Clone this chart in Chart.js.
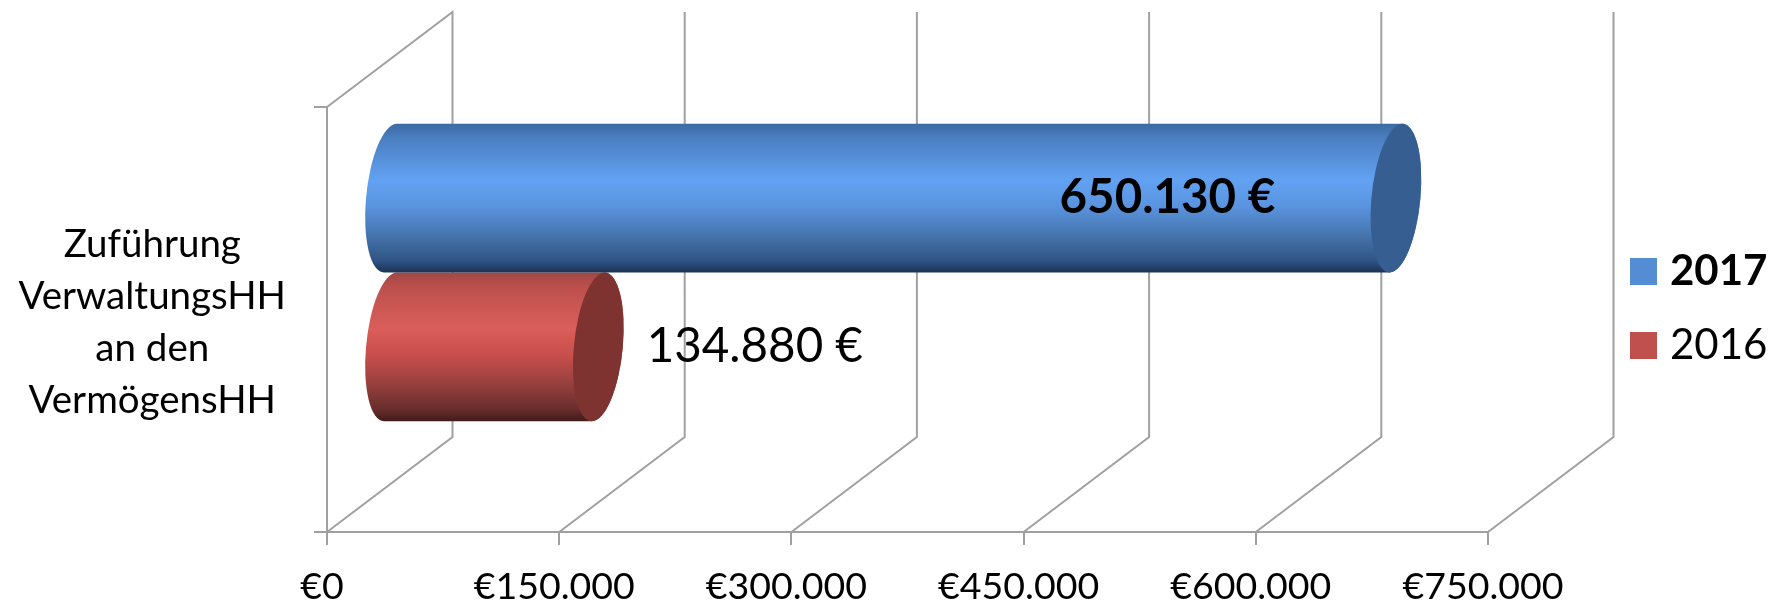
<!DOCTYPE html>
<html>
<head>
<meta charset="utf-8">
<title>Zuführung VerwaltungsHH an den VermögensHH</title>
<script src="https://cdn.jsdelivr.net/npm/chart.js@4/dist/chart.umd.min.js"></script>
<style>
    html, body { margin: 0; padding: 0; background: #fff; }
    canvas { display: block; }
</style>
</head>
<body>
<canvas id="chart" width="1783" height="603"></canvas>
<script>
var categories = [['Zuführung', 'VerwaltungsHH', 'an den', 'VermögensHH']];
var seriesNames = ['2017', '2016'];
var values2017 = [650130];
var values2016 = [134880];
var xTickValues = [0, 150000, 300000, 450000, 600000, 750000];
var xTickLabels = ['€0', '€150.000', '€300.000', '€450.000', '€600.000', '€750.000'];

var FONT = 'Lato, Carlito, Calibri, sans-serif';
var GRID = '#a0a0a0';
var GRID_WIDTH = 2;
// fake 3D: the walls sit this far behind the front plane, the bars half way
var DEPTH_X = 125.5, DEPTH_Y = 95;
var BAR_SHIFT_X = 62.5, BAR_SHIFT_Y = -47;
var CAP_RX = 24.5, CAP_SKEW = 0.087;

var looks = [
    {
        swatch: '#548dd4', cap: '#365e91',
        stops: [[0, '#3c6aa2'], [0.1, '#4a7fc1'], [0.38, '#62a2f2'], [0.55, '#5a94e0'], [0.75, '#4675ad'], [0.92, '#2f5484'], [1, '#1c3354']]
    },
    {
        swatch: '#c0504d', cap: '#7e3331',
        stops: [[0, '#9f4846'], [0.1, '#bd504d'], [0.38, '#da5e5a'], [0.55, '#c94f4c'], [0.75, '#96403e'], [0.92, '#682d2b'], [1, '#3f1b1a']]
    }
];

var cylinderBars = {
    id: 'cylinderBars',
    beforeDatasetDraw: function (chart, args) {
        var look = looks[args.index];
        var bar = chart.getDatasetMeta(args.index).data[0];
        var ry = bar.height / 2;
        var xL = bar.base + BAR_SHIFT_X;
        var xR = bar.x + BAR_SHIFT_X;
        var ctx = chart.ctx;

        ctx.save();
        ctx.transform(1, 0, -CAP_SKEW, 1, 0, bar.y + BAR_SHIFT_Y);

        var g = ctx.createLinearGradient(0, -ry, 0, ry);
        look.stops.forEach(function (s) { g.addColorStop(s[0], s[1]); });
        ctx.beginPath();
        ctx.ellipse(xL, 0, CAP_RX, ry, 0, Math.PI / 2, Math.PI * 1.5);
        ctx.lineTo(xR, -ry);
        ctx.ellipse(xR, 0, CAP_RX, ry, 0, -Math.PI / 2, Math.PI / 2);
        ctx.closePath();
        ctx.fillStyle = g;
        ctx.fill();

        ctx.beginPath();
        ctx.ellipse(xR, 0, CAP_RX, ry, 0, 0, Math.PI * 2);
        ctx.fillStyle = look.cap;
        ctx.fill();
        ctx.restore();
        return false;
    }
};

var depthGrid = {
    id: 'depthGrid',
    beforeDatasetsDraw: function (chart) {
        var ctx = chart.ctx;
        var area = chart.chartArea;
        var backTop = area.top - DEPTH_Y;
        var backBottom = area.bottom - DEPTH_Y;
        ctx.save();
        ctx.strokeStyle = GRID;
        ctx.lineWidth = GRID_WIDTH;
        xTickValues.forEach(function (v, i) {
            var x = chart.scales.x.getPixelForValue(v);
            ctx.beginPath();
            ctx.moveTo(x, area.bottom);
            ctx.lineTo(x + DEPTH_X, backBottom);
            ctx.lineTo(x + DEPTH_X, backTop);
            if (i === 0) ctx.lineTo(x, area.top);
            ctx.stroke();
        });
        ctx.restore();
    }
};

var valueLabels = {
    id: 'valueLabels',
    afterDatasetsDraw: function (chart) {
        var ctx = chart.ctx;
        var blue = chart.getDatasetMeta(0).data[0];
        var red = chart.getDatasetMeta(1).data[0];
        ctx.save();
        ctx.fillStyle = '#000';
        ctx.textAlign = 'center';
        ctx.textBaseline = 'alphabetic';
        ctx.font = 'bold 47.5px ' + FONT;
        ctx.fillText(values2017[0].toLocaleString('de-DE') + ' €', blue.x - 166, blue.y + BAR_SHIFT_Y + 15);
        ctx.font = '47.5px ' + FONT;
        ctx.fillText(values2016[0].toLocaleString('de-DE') + ' €', red.x + 219, red.y + BAR_SHIFT_Y + 15);
        ctx.restore();
    }
};

var sideLegend = {
    id: 'sideLegend',
    afterDraw: function (chart) {
        var ctx = chart.ctx;
        ctx.save();
        ctx.textAlign = 'left';
        ctx.textBaseline = 'alphabetic';
        chart.data.datasets.forEach(function (ds, i) {
            var top = 258 + i * 74;
            ctx.fillStyle = ds.backgroundColor;
            ctx.fillRect(1630, top, 27, 27);
            ctx.fillStyle = '#000';
            ctx.font = (i === 0 ? 'bold ' : '') + '42px ' + FONT;
            ctx.fillText(ds.label, 1670, top + 27);
        });
        ctx.restore();
    }
};

// tall wrapped labels and wide ticks would otherwise push the plot area inwards
function dropLabelPadding(scale) {
    scale.paddingTop = scale.paddingBottom = scale.paddingLeft = scale.paddingRight = 0;
}

new Chart(document.getElementById('chart'), {
    type: 'bar',
    data: {
        labels: categories,
        datasets: [
            { label: seriesNames[0], data: values2017, backgroundColor: looks[0].swatch, categoryPercentage: 0.7, barPercentage: 1 },
            { label: seriesNames[1], data: values2016, backgroundColor: looks[1].swatch, categoryPercentage: 0.7, barPercentage: 1 }
        ]
    },
    plugins: [depthGrid, cylinderBars, valueLabels, sideLegend],
    options: {
        indexAxis: 'y',
        responsive: false,
        animation: false,
        layout: { padding: { top: 107, right: 295, bottom: 0, left: 0 } },
        plugins: {
            legend: { display: false },
            title: { display: false },
            tooltip: { enabled: false }
        },
        scales: {
            x: {
                type: 'linear',
                min: 0,
                max: 750000,
                afterFit: function (scale) { scale.height = 71; dropLabelPadding(scale); },
                afterBuildTicks: function (scale) {
                    scale.ticks = xTickValues.map(function (v) { return { value: v }; });
                },
                border: { color: GRID, width: GRID_WIDTH },
                grid: { drawOnChartArea: false, color: GRID, lineWidth: GRID_WIDTH, tickLength: 13 },
                ticks: {
                    autoSkip: false,
                    maxRotation: 0,
                    padding: 19,
                    labelOffset: -5,
                    color: '#000',
                    font: { family: FONT, size: 37.5 },
                    callback: function (value, index) { return xTickLabels[index]; }
                }
            },
            y: {
                afterFit: function (scale) { scale.width = 327; dropLabelPadding(scale); },
                border: { color: GRID, width: GRID_WIDTH },
                grid: { drawOnChartArea: false, color: GRID, lineWidth: GRID_WIDTH, tickLength: 13 },
                ticks: {
                    crossAlign: 'center',
                    padding: 28,
                    labelOffset: 3,
                    color: '#000',
                    font: { family: FONT, size: 38.5, lineHeight: 52 / 38.5 }
                }
            }
        }
    }
});
</script>
</body>
</html>
